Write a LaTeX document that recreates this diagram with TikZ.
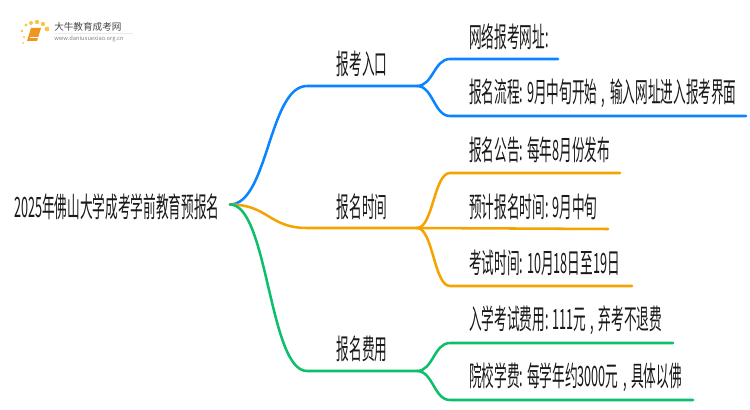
\documentclass[tikz,border=0pt]{standalone}
\usepackage{fontspec}
\setmainfont{Noto Sans CJK SC}
\newcommand{\sepc}{\hspace{0.14em} , \hspace{0.14em}}
\tikzset{
  txt/.style={anchor=west,inner sep=0pt,xscale=0.452,yscale=-1,transform shape,font=\fontsize{21pt}{22pt}\selectfont,text={rgb,255:red,25;green,25;blue,25}},
  midtxt/.style={txt,anchor=center},
  line/.style={line width=1.9pt,line cap=round},
  blueline/.style={line,color={rgb,255:red,10;green,132;blue,255}},
  orangeline/.style={line,color={rgb,255:red,245;green,163;blue,0}},
  greenline/.style={line,color={rgb,255:red,12;green,191;blue,107}},
  dot/.style={fill={rgb,255:red,250;green,196;blue,70},draw=none},
}
\begin{document}
\begin{tikzpicture}[x=0.75pt,y=0.75pt,yscale=-1,xscale=1]
\useasboundingbox (0,0) rectangle (750,410);

%Logo
\fill[dot] (26,25) circle (1.6) (31,23) circle (2) (37,22) circle (2.2) (43,24) circle (2.2) (47,29) circle (2.4) (22,31) circle (1.4) (24,37) circle (1.2) (23,43) circle (1);
\fill[color={rgb,255:red,240;green,150;blue,30}] (31,28) -- (41,28) -- (37,41) -- (27,41) -- cycle;
\draw[white,line width=0.5] (30,37.5) -- (38,37.5);
\draw[color={rgb,255:red,235;green,235;blue,235}] (54,33) -- (133,33);
\node[anchor=west,inner sep=0pt,font=\fontsize{7.2pt}{8pt}\selectfont,text={rgb,255:red,70;green,70;blue,70}] (logotitle) at (54,27) {大牛教育成考网};
\node[anchor=west,inner sep=0pt,font=\fontsize{4.3pt}{5pt}\selectfont,text={rgb,255:red,130;green,130;blue,130}] (logourl) at (54,38.5) {www.daniuxuexiao.org.cn};

% Text Node
\node[txt] (root) at (14,207) {2025年佛山大学成考学前教育预报名};
\node[midtxt] (entry) at (362,64) {报考入口};
\node[midtxt] (time) at (362,207) {报名时间};
\node[midtxt] (fee) at (362,349) {报名费用};
\node[txt] (entrya) at (469,37) {网络报考网址:};
\node[txt] (entryb) at (469,93) {报名流程: 9月中旬开始\sepc 输入网址进入报考界面};
\node[txt] (timea) at (469,150) {报名公告: 每年8月份发布};
\node[txt] (timeb) at (469,207) {预计报名时间: 9月中旬};
\node[txt] (timec) at (469,263) {考试时间: 10月18日至19日};
\node[txt] (feea) at (469,320) {入学考试费用: 111元\sepc 弃考不退费};
\node[txt] (feeb) at (469,377) {院校学费: 每学年约3000元\sepc 具体以佛};

% Line ends
\coordinate (start) at (230,204.5);
\coordinate (entryl) at (307,86);
\coordinate (entryr) at (417,86);
\coordinate (timel) at (307,228);
\coordinate (timer) at (417,228);
\coordinate (feel) at (307,371);
\coordinate (feer) at (417,371);
\coordinate (entryaend) at (558,59);
\coordinate (entrybend) at (746,116);
\coordinate (timeaend) at (620,173);
\coordinate (timebend) at (608,229);
\coordinate (timecend) at (632,286);
\coordinate (feeaend) at (673,343);
\coordinate (feebend) at (693,400);

%Blue branch
\draw[blueline] (start) .. controls (268,204.5) and (269,86) .. (entryl) -- (entryr);
\draw[blueline] (entryr) .. controls (433,86) and (434,59) .. (450,59) -- (entryaend);
\draw[blueline] (entryr) .. controls (433,86) and (434,116) .. (450,116) -- (entrybend);
%Orange branch
\draw[orangeline] (start) .. controls (268,204.5) and (269,228) .. (timel) -- (timer);
\draw[orangeline] (timer) .. controls (433,228) and (434,173) .. (450,173) -- (timeaend);
\draw[orangeline] (timer) -- (timebend);
\draw[orangeline] (timer) .. controls (433,228) and (434,286) .. (450,286) -- (timecend);
%Green branch
\draw[greenline] (start) .. controls (268,204.5) and (269,371) .. (feel) -- (feer);
\draw[greenline] (feer) .. controls (433,371) and (434,343) .. (450,343) -- (feeaend);
\draw[greenline] (feer) .. controls (433,371) and (434,400) .. (450,400) -- (feebend);

\end{tikzpicture}
\end{document}
